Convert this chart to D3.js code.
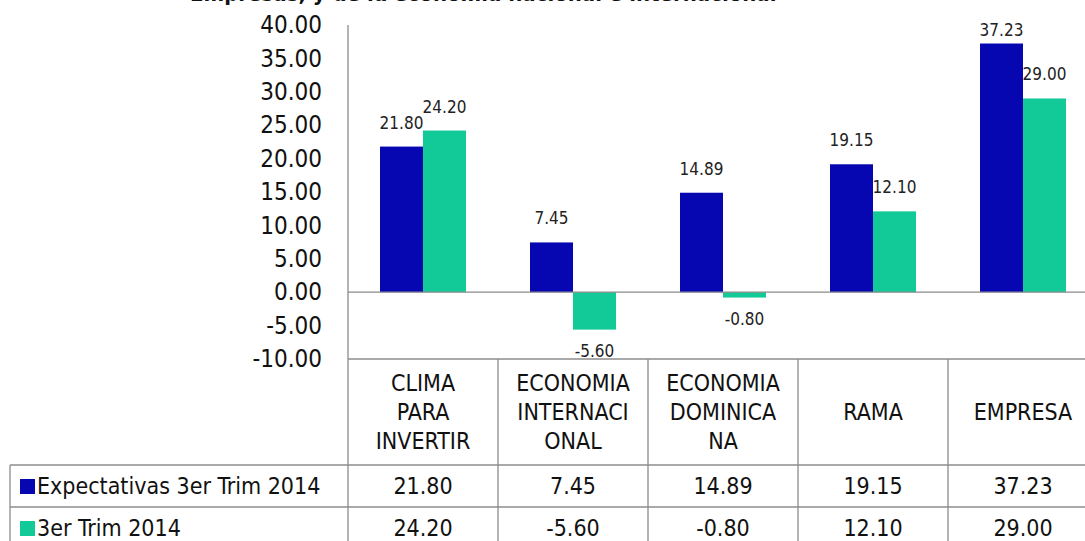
<!DOCTYPE html>
<html><head><meta charset="utf-8">
<script src="https://cdn.jsdelivr.net/npm/d3@7"></script>
<style>
html,body{margin:0;padding:0;background:#fff;}
svg{display:block;}
</style></head>
<body>
<svg id="chart" width="1085" height="541"></svg>
<script>
// ---- data ----
const categories = ["CLIMA PARA INVERTIR", "ECONOMIA INTERNACIONAL", "ECONOMIA DOMINICANA", "RAMA", "EMPRESA"];
const categoryLines = [["CLIMA", "PARA", "INVERTIR"], ["ECONOMIA", "INTERNACI", "ONAL"], ["ECONOMIA", "DOMINICA", "NA"], ["RAMA"], ["EMPRESA"]];
const seriesNames = ["Expectativas 3er Trim 2014", "3er Trim 2014"];
const expectativas = [21.80, 7.45, 14.89, 19.15, 37.23];
const trim3 = [24.20, -5.60, -0.80, 12.10, 29.00];
const yTicks = [40, 35, 30, 25, 20, 15, 10, 5, 0, -5, -10];
const titleText = "Empresas, y de la economía nacional e internacional";

const colors = ["#0707B2", "#12CA98"];
const FONT = "Tahoma, 'DejaVu Sans Condensed', 'DejaVu Sans', sans-serif";
const seriesValues = [expectativas, trim3];
const fmt = d3.formatLocale({ decimal: ".", thousands: ",", grouping: [3], currency: ["", ""], minus: "-" }).format(".2f");

const svg = d3.select("#chart");

const y = d3.scaleLinear().domain([-10, 40]).range([359, 25]);
const x = d3.scaleBand().domain(categories).range([348, 1098]).padding(0);
const bw = x.bandwidth();
const xs = d3.scaleBand().domain(seriesNames).range([bw * 0.2133, bw * 0.7867]).padding(0);

// title (cut off at the top edge, as in the reference)
svg.append("text")
  .attr("x", 190).attr("y", 1)
  .attr("text-anchor", "start")
  .attr("font-family", FONT).style("font-stretch", "condensed").attr("font-weight", "bold")
  .attr("font-size", 22).attr("fill", "#111")
  .text(titleText);

// y axis labels
const yAxis = d3.axisLeft(y).tickValues(yTicks).tickFormat(fmt).tickSize(0).tickPadding(26);
const gy = svg.append("g").attr("transform", "translate(348,0)").call(yAxis);
gy.select(".domain").remove();
gy.selectAll("text")
  .attr("font-family", FONT).style("font-stretch", "condensed")
  .attr("font-size", 24).attr("fill", "#111");

// bars
seriesNames.forEach((s, si) => {
  svg.append("g").selectAll("rect")
    .data(categories.map((c, i) => ({ c, v: seriesValues[si][i] })))
    .join("rect")
    .attr("x", d => x(d.c) + xs(s))
    .attr("width", xs.bandwidth())
    .attr("y", d => y(Math.max(0, d.v)))
    .attr("height", d => Math.abs(y(d.v) - y(0)))
    .attr("fill", colors[si]);
});

// zero line
svg.append("line").attr("x1", 348).attr("x2", 1085).attr("y1", y(0)).attr("y2", y(0))
  .attr("stroke", "#8a8a8a").attr("stroke-width", 1.3);

// data labels
seriesNames.forEach((s, si) => {
  svg.append("g").selectAll("text")
    .data(categories.map((c, i) => ({ c, v: seriesValues[si][i] })))
    .join("text")
    .attr("x", d => x(d.c) + xs(s) + xs.bandwidth() / 2)
    .attr("y", d => d.v >= 0 ? Math.max(y(d.v) - 18, y.range()[1] + 11) : y(d.v) + 27)
    .attr("text-anchor", "middle")
    .attr("font-family", FONT)
    .attr("font-size", 17).attr("fill", "#222")
    .text(d => fmt(d.v));
});

// data table
const gridColor = "#8c8c8c";
const tbl = svg.append("g");
const rowTop = 359, catBottom = 465, row1Bottom = 507, row2Bottom = 549;
tbl.append("line").attr("x1", 348).attr("x2", 348).attr("y1", y.range()[1]).attr("y2", row2Bottom)
  .attr("stroke", gridColor).attr("stroke-width", 1.3);
[[348, rowTop], [10, catBottom], [10, row1Bottom]].forEach(([x0, yy]) => {
  tbl.append("line").attr("x1", x0).attr("x2", 1085).attr("y1", yy).attr("y2", yy)
    .attr("stroke", gridColor).attr("stroke-width", 1.3);
});
tbl.append("line").attr("x1", 10).attr("x2", 10).attr("y1", catBottom).attr("y2", row2Bottom)
  .attr("stroke", gridColor).attr("stroke-width", 1.3);
categories.slice(1).forEach(c => {
  tbl.append("line").attr("x1", x(c)).attr("x2", x(c)).attr("y1", rowTop).attr("y2", row2Bottom)
    .attr("stroke", gridColor).attr("stroke-width", 1.3);
});

// category labels
const lineH = 29;
categories.forEach((c, i) => {
  const lines = categoryLines[i];
  const cy = (rowTop + catBottom) / 2;
  const t = tbl.append("text")
    .attr("text-anchor", "middle")
    .attr("font-family", FONT).style("font-stretch", "condensed")
    .attr("font-size", 23).attr("fill", "#111");
  lines.forEach((ln, li) => {
    t.append("tspan")
      .attr("x", x(c) + bw / 2)
      .attr("y", cy + (li - (lines.length - 1) / 2) * lineH + 8)
      .text(ln);
  });
});

// value rows
const rowCenters = [(catBottom + row1Bottom) / 2, (row1Bottom + row2Bottom) / 2];
seriesNames.forEach((s, si) => {
  const cy = rowCenters[si];
  tbl.append("rect").attr("x", 20).attr("y", cy - 7).attr("width", 15).attr("height", 15).attr("fill", colors[si]);
  tbl.append("text").attr("x", 37).attr("y", cy + 8)
    .attr("font-family", FONT).style("font-stretch", "condensed")
    .attr("font-size", 23).attr("fill", "#111").text(s);
  tbl.append("g").selectAll("text")
    .data(categories.map((c, i) => ({ c, v: seriesValues[si][i] })))
    .join("text")
    .attr("x", d => x(d.c) + bw / 2)
    .attr("y", cy + 8)
    .attr("text-anchor", "middle")
    .attr("font-family", FONT).style("font-stretch", "condensed")
    .attr("font-size", 23).attr("fill", "#111")
    .text(d => fmt(d.v));
});
</script>
</body></html>
